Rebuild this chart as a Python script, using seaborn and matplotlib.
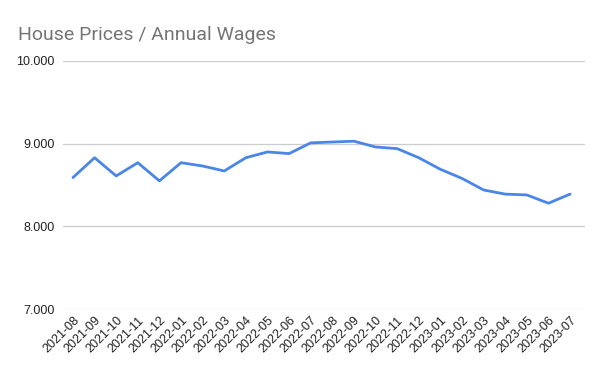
import matplotlib
matplotlib.use("Agg")
import matplotlib.pyplot as plt
import seaborn as sns
import pandas as pd

months = ["2021-08", "2021-09", "2021-10", "2021-11", "2021-12", "2022-01", "2022-02",
          "2022-03", "2022-04", "2022-05", "2022-06", "2022-07", "2022-08", "2022-09",
          "2022-10", "2022-11", "2022-12", "2023-01", "2023-02", "2023-03", "2023-04",
          "2023-05", "2023-06", "2023-07"]
ratio = [8.59, 8.83, 8.61, 8.77, 8.55, 8.77, 8.73, 8.67, 8.83, 8.90, 8.88, 9.01,
         9.02, 9.03, 8.96, 8.94, 8.83, 8.69, 8.58, 8.44, 8.39, 8.38, 8.28, 8.39]
yticks = [7, 8, 9, 10]
ytick_labels = ["7.000", "8.000", "9.000", "10.000"]
title = "House Prices / Annual Wages"

sns.set_theme(style="white")
plt.rcParams["font.family"] = ["Liberation Sans", "DejaVu Sans"]

df = pd.DataFrame({"idx": range(len(months)), "month": months, "ratio": ratio})

fig = plt.figure(figsize=(6.0, 3.71), dpi=100)
ax = fig.add_axes([0.105, 0.167, 0.87, 0.6686])
sns.lineplot(data=df, x="idx", y="ratio", ax=ax, color="#4a86e8", linewidth=2,
             solid_joinstyle="round", solid_capstyle="round")

ax.set_ylim(7, 10)
ax.set_xlim(-0.46, 23.69)
ax.set_yticks(yticks)
ax.set_yticklabels(ytick_labels)
ax.set_xticks(df["idx"])
ax.set_xticklabels(months, rotation=45, ha="right", rotation_mode="anchor")
ax.tick_params(axis="both", length=0, labelsize=9, labelcolor="#222222")
ax.tick_params(axis="y", pad=6)
ax.tick_params(axis="x", pad=4)
ax.grid(axis="y", color="#cccccc", linewidth=0.9)
ax.grid(axis="x", visible=False)
for s in ax.spines.values():
    s.set_visible(False)
ax.set_xlabel("")
ax.set_ylabel("")
fig.text(18 / 600, 1 - 40 / 371, title, fontsize=14, color="#757575", va="baseline", ha="left",
         family=["Roboto", "DejaVu Sans"])

fig.savefig("out.png", dpi=100)
